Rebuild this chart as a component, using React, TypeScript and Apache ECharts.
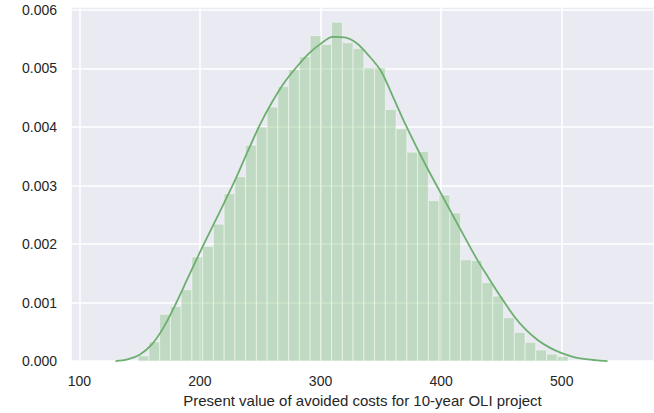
import React, { useEffect, useRef } from "react";
import * as echarts from "echarts";

// Histogram bins (density)
const BIN_START = 148.8;
const BIN_WIDTH = 8.91;
const binDensity = [
  0.00009, 0.00033, 0.0008, 0.00093, 0.00122, 0.00178, 0.00196, 0.00234,
  0.00286, 0.00315, 0.00369, 0.004, 0.00434, 0.00469, 0.00498, 0.0052,
  0.00556, 0.00541, 0.00579, 0.00544, 0.00534, 0.00501, 0.00501, 0.0043,
  0.00397, 0.00357, 0.00358, 0.00274, 0.00284, 0.00253, 0.00173, 0.00172,
  0.00134, 0.00111, 0.00074, 0.00049, 0.00032, 0.00019, 0.00012, 0.00008,
];

// KDE curve points
const kdeX = [
  130, 140, 150, 160, 170, 180, 190, 200, 210, 220, 230, 240, 250, 260, 270,
  280, 290, 300, 310, 320, 330, 340, 350, 360, 370, 380, 390, 400, 410, 420,
  430, 440, 450, 460, 470, 480, 490, 500, 510, 520, 530, 538,
];
const kdeY = [
  0.0, 0.00003, 0.00011, 0.00028, 0.00058, 0.00098, 0.00142, 0.00186,
  0.00228, 0.0027, 0.00313, 0.0036, 0.00405, 0.00443, 0.00476, 0.00502,
  0.00525, 0.00542, 0.00554, 0.00553, 0.00543, 0.00522, 0.00496, 0.00452,
  0.00406, 0.00364, 0.00324, 0.00286, 0.00248, 0.0021, 0.00173, 0.0014,
  0.00108, 0.00078, 0.00054, 0.00036, 0.00023, 0.000135, 0.00007, 0.000035,
  0.000013, 0.0,
];

const X_MIN = 93.1;
const X_MAX = 576.5;
const Y_MAX = 0.00605;
const X_NAME = "Present value of avoided costs for 10-year OLI project";

export default function App() {
  const ref = useRef<HTMLDivElement>(null);
  useEffect(() => {
    if (!ref.current) return;
    const chart = echarts.init(ref.current, null, { renderer: "svg" });
    const font = "'Liberation Sans', Arial, sans-serif";
    const barData = binDensity.map((v, i) => [
      BIN_START + i * BIN_WIDTH,
      BIN_START + (i + 1) * BIN_WIDTH,
      v,
    ]);
    chart.setOption({
      animation: false,
      grid: {
        left: 71,
        right: 0,
        top: 7,
        bottom: 48,
        show: true,
        backgroundColor: "#EAEAF2",
        borderWidth: 0,
      },
      xAxis: {
        type: "value",
        min: X_MIN,
        max: X_MAX,
        splitNumber: 5,
        name: X_NAME,
        nameLocation: "middle",
        nameGap: 29,
        nameTextStyle: { color: "#262626", fontSize: 15, fontFamily: font },
        axisLine: { show: false },
        axisTick: { show: false },
        axisLabel: {
          showMinLabel: false,
          showMaxLabel: false,
          color: "#262626",
          fontSize: 14,
          fontFamily: font,
          margin: 13,
        },
        splitLine: { show: true, lineStyle: { color: "#FFFFFF", width: 1.6 } },
      },
      yAxis: {
        type: "value",
        min: 0,
        max: Y_MAX,
        interval: 0.001,
        axisLine: { show: false },
        axisTick: { show: false },
        axisLabel: {
          showMaxLabel: false,
          color: "#262626",
          fontSize: 14,
          fontFamily: font,
          margin: 14,
          formatter: (v: number) => v.toFixed(3),
        },
        splitLine: { show: true, lineStyle: { color: "#FFFFFF", width: 1.6 } },
      },
      series: [
        {
          type: "custom",
          data: barData,
          encode: { x: [0, 1], y: 2 },
          renderItem: (params: any, api: any) => {
            const p0 = api.coord([api.value(0), api.value(2)]);
            const p1 = api.coord([api.value(1), 0]);
            return {
              type: "rect",
              shape: { x: p0[0], y: p0[1], width: p1[0] - p0[0], height: p1[1] - p0[1] },
              style: {
                fill: "#8DC68A",
                stroke: "#FFFFFF",
                lineWidth: 1,
                opacity: 0.45,
              },
            };
          },
        },
        {
          type: "line",
          data: kdeX.map((x, i) => [x, kdeY[i]]),
          smooth: 0.3,
          showSymbol: false,
          symbol: "none",
          lineStyle: { color: "#6DAF6F", width: 1.8 },
          z: 3,
        },
      ],
    });
    return () => chart.dispose();
  }, []);
  return (
    <div
      ref={ref}
      style={{ position: "fixed", left: 0, top: 0, width: 654, height: 413, background: "#FFFFFF" }}
    />
  );
}
